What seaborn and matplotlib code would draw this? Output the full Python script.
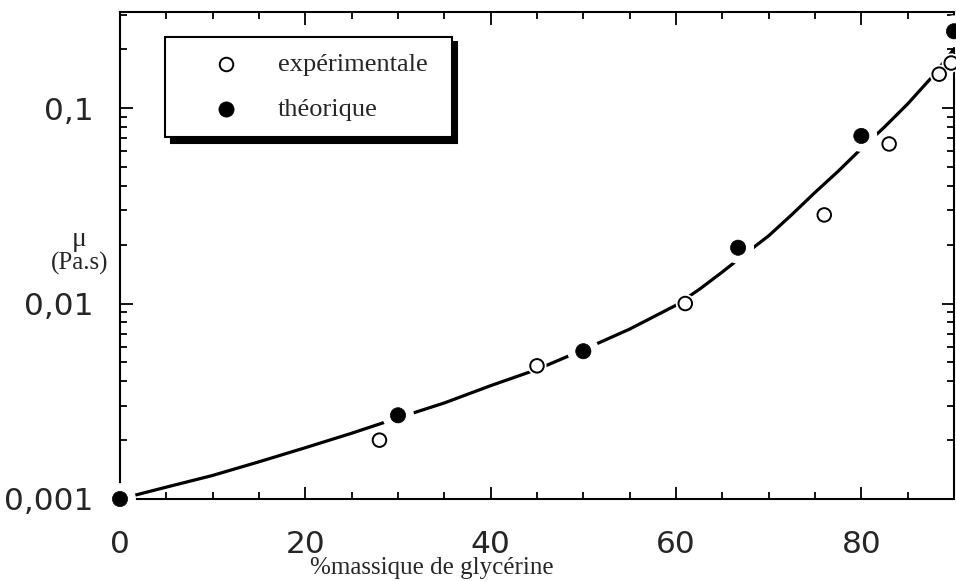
import numpy as np
import pandas as pd
import matplotlib
matplotlib.use("Agg")
import matplotlib.pyplot as plt
import matplotlib.patheffects as pe
from matplotlib.ticker import FixedLocator, LogLocator, NullFormatter, MultipleLocator
import seaborn as sns

# ---- data ----
exp_x = [28, 45, 61, 76, 83, 88.4, 89.7]
exp_y = [0.0020, 0.0048, 0.0100, 0.0284, 0.0655, 0.149, 0.170]
theo_x = [0, 30, 50, 66.7, 80, 90]
theo_y = [0.0010, 0.00268, 0.0057, 0.0193, 0.072, 0.247]
curve_x = [0, 5, 10, 15, 20, 25, 30, 35, 40, 45, 50, 55, 60, 62.5, 65, 67.5,
           70, 72.5, 75, 77.5, 80, 82.5, 85, 87.5, 90]
curve_y = [0.0010, 0.00115, 0.00132, 0.00155, 0.00183, 0.00217, 0.0026, 0.0031,
           0.0038, 0.0046, 0.0058, 0.0074, 0.0098, 0.0118, 0.0145, 0.0180,
           0.0222, 0.0285, 0.0370, 0.0475, 0.062, 0.080, 0.105, 0.142, 0.20]
x_ticks = [0, 20, 40, 60, 80]
y_ticks = [0.001, 0.01, 0.1]
y_tick_labels = ["0,001", "0,01", "0,1"]

sns.set_theme(style="ticks")
plt.rcParams['font.family'] = ['DejaVu Sans']

fig = plt.figure(figsize=(9.56, 5.81), dpi=100)
ax = fig.add_axes([120/956, 1-499/581, (954-120)/956, (499-12)/581])

curve = pd.DataFrame({"x": curve_x, "y": curve_y})
exp = pd.DataFrame({"x": exp_x, "y": exp_y})
theo = pd.DataFrame({"x": theo_x, "y": theo_y})

sns.lineplot(data=curve, x="x", y="y", ax=ax, color="black", linewidth=2.3,
             zorder=2, legend=False)

halo_f = [pe.Stroke(linewidth=12, foreground="white"), pe.Normal()]
halo_o = [pe.Stroke(linewidth=4, foreground="white"), pe.Normal()]
sns.scatterplot(data=exp, x="x", y="y", ax=ax, marker="o", s=95,
                facecolor="white", edgecolor="black", linewidth=1.4,
                zorder=4, clip_on=False, label="expérimentale")
sns.scatterplot(data=theo, x="x", y="y", ax=ax, marker="o", s=120,
                color="black", edgecolor="black", linewidth=0.5,
                zorder=5, clip_on=False, label="théorique")
for coll in ax.collections:
    coll.set_path_effects(halo_f if np.allclose(coll.get_facecolor()[0][:3], 0) else halo_o)

ax.set_yscale("log")
ax.set_xlim(0, 90)
ax.set_ylim(0.001, 0.31)
ax.xaxis.set_major_locator(FixedLocator(x_ticks))
ax.xaxis.set_minor_locator(MultipleLocator(5))
ax.yaxis.set_major_locator(FixedLocator(y_ticks))
ax.set_yticklabels(y_tick_labels)
ax.yaxis.set_minor_locator(LogLocator(base=10, subs=np.arange(2, 10)))
ax.yaxis.set_minor_formatter(NullFormatter())
ax.set_xlabel("")
ax.set_ylabel("")

ax.tick_params(which="both", direction="in", top=True, right=True, color="black")
ax.tick_params(which="major", length=9, width=1.3, labelsize=22.5)
ax.tick_params(which="minor", length=5, width=1.3)
ax.tick_params(axis="x", which="major", pad=22)
ax.tick_params(axis="y", which="major", pad=19)
for sp in ax.spines.values():
    sp.set_visible(True)
    sp.set_linewidth(1.5)
    sp.set_color("black")

leg = ax.legend(loc="upper left", bbox_to_anchor=(0.054, 0.749, 0.344, 0.2),
                mode="expand", frameon=True, fancybox=False,
                shadow={"color": "black", "alpha": 1, "ox": 4, "oy": -4},
                prop={"family": ["Liberation Serif"], "size": 19},
                borderpad=0.6, labelspacing=0.82, handlelength=3.4,
                handletextpad=0.27, borderaxespad=0)
leg.get_frame().set_edgecolor("black")
leg.get_frame().set_linewidth(1.5)
leg.get_frame().set_facecolor("white")
for h in leg.legend_handles:
    h.set_path_effects([])

serif = ["Liberation Serif", "DejaVu Serif"]
fig.text(432/956, 1-568/581, "%massique de glycérine", ha="center", va="center",
         fontsize=18, family=serif)
fig.text(79/956, 1-240/581, "μ", ha="center", va="center", fontsize=20, family=serif)
fig.text(80/956, 1-263/581, "(Pa.s)", ha="center", va="center", fontsize=18, family=serif)

fig.savefig("out.png", dpi=100)
